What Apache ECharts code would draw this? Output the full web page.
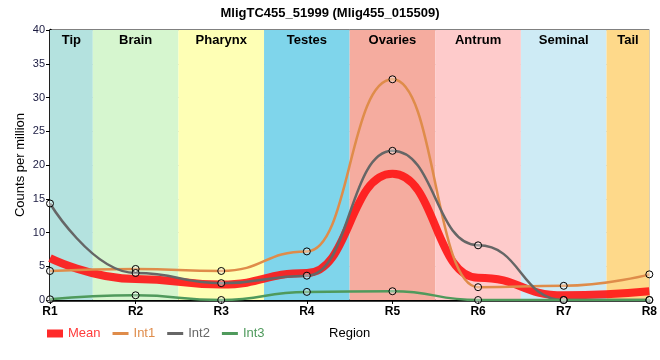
<!DOCTYPE html>
<html><head><meta charset="utf-8">
<script src="https://cdn.jsdelivr.net/npm/echarts@6/dist/echarts.min.js"></script>
<style>html,body{margin:0;padding:0;background:#fff}#c{width:660px;height:360px}</style>
</head><body><div id="c"></div>
<script>
const categories = ['R1','R2','R3','R4','R5','R6','R7','R8'];
const regions = ['Tip','Brain','Pharynx','Testes','Ovaries','Antrum','Seminal','Tail'];
const regionColors = ['#b4e2df','#d6f6cf','#feffb5','#7fd5eb','#f5ac9f','#fecbcb','#ceebf5','#fed98a'];
const mean = [6.2, 3.1, 2.3, 4.0, 18.7, 3.3, 0.7, 1.3];
const int1 = [4.3, 4.6, 4.3, 7.2, 32.7, 1.9, 2.1, 3.8];
const int2 = [14.3, 4.0, 2.5, 3.6, 22.1, 8.1, 0.0, 0.0];
const int3 = [0.1, 0.7, 0.0, 1.2, 1.3, 0.0, 0.0, 0.0];
const yTicks = [0,5,10,15,20,25,30,35,40];

const FONT = '"Liberation Sans", Arial, sans-serif';
const pts = arr => arr.map((v,i)=>[i+1, v]);
const n = categories.length;
const bands = regions.map((r,i)=>[
  {xAxis: Math.max(1, i+0.5), yAxis: 0, name: r, itemStyle:{color: regionColors[i]}},
  {xAxis: Math.min(n, i+1.5), yAxis: 40}
]);
function lineSeries(name, data, color, width, sym, z){
  return {
    name, type:'line', data: pts(data), smooth:0.5, smoothMonotone:'x',
    showSymbol: sym, symbol:'circle', symbolSize:7,
    itemStyle:{color: sym ? 'rgba(255,255,255,0.35)' : color, borderColor:'#000', borderWidth: sym ? 1 : 0},
    lineStyle:{color, width}, z: z, emphasis:{disabled:true}
  };
}
const chart = echarts.init(document.getElementById('c'), null, {renderer:'canvas'});
const lineIcon = 'path://M0,0 L16,0 L16,3 L0,3 Z';
const rectIcon = 'path://M0,0 L16,0 L16,8 L0,8 Z';
chart.setOption({
  animation:false,
  textStyle:{fontFamily: FONT},
  title:{text:'MligTC455_51999 (Mlig455_015509)', left:'center', top:2,
    textStyle:{fontSize:13, fontWeight:'bold', color:'#000', fontFamily: FONT}},
  grid:{left:50, right:9, top:30, bottom:60, show:true, borderColor:'#000', borderWidth:1},
  legend:{left:42, top:322, itemWidth:16, itemHeight:8, itemGap:12, symbolKeepAspect:true,
    data:[
      {name:'Mean', icon:rectIcon, textStyle:{color:'#ff3b3b'}, itemStyle:{color:'#ff2a2a', borderWidth:0}},
      {name:'Int1', icon:lineIcon, textStyle:{color:'#df8c4a'}, itemStyle:{color:'#df8c4a', borderWidth:0}},
      {name:'Int2', icon:lineIcon, textStyle:{color:'#666'}, itemStyle:{color:'#666', borderWidth:0}},
      {name:'Int3', icon:lineIcon, textStyle:{color:'#4f9a5c'}, itemStyle:{color:'#4f9a5c', borderWidth:0}}
    ],
    textStyle:{fontSize:13, fontFamily: FONT}},
  xAxis:{type:'value', min:1, max:n, interval:1, name:'Region', nameLocation:'middle', nameGap:27,
    nameMoveOverlap:false,
    nameTextStyle:{color:'#000', fontSize:13, fontFamily: FONT},
    axisLine:{lineStyle:{color:'#000', width:2.5}},
    axisTick:{show:true, length:4, lineStyle:{color:'#000'}},
    axisLabel:{formatter:v=>categories[v-1]||'', color:'#000', fontSize:12, fontWeight:'bold', margin:6, fontFamily: FONT},
    splitLine:{show:true, lineStyle:{color:'#c8c8c8'}}},
  yAxis:{type:'value', min:yTicks[0], max:yTicks[yTicks.length-1], interval:5, name:'Counts per million',
    nameLocation:'middle', nameGap:23, nameMoveOverlap:false,
    nameTextStyle:{color:'#000', fontSize:13, fontFamily: FONT},
    axisLine:{show:true, lineStyle:{color:'#000', width:2.5}},
    axisTick:{show:true, length:4, lineStyle:{color:'#000'}},
    axisLabel:{color:'#1a1a40', fontSize:11, margin:5, fontFamily: FONT},
    splitLine:{show:true, lineStyle:{color:'#c8c8c8'}}},
  series:[
    {name:'bands', type:'line', data:[], silent:true, z:0,
      markArea:{silent:true, data:bands,
        label:{show:true, position:'insideTop', distance:4, color:'#000', fontSize:13, fontWeight:'bold', fontFamily: FONT}}},
    lineSeries('Mean', mean, 'rgba(255,20,20,0.9)', 8, false, 2),
    lineSeries('Int1', int1, '#df8c4a', 2.5, true, 3),
    lineSeries('Int2', int2, '#666666', 2.5, true, 3),
    lineSeries('Int3', int3, '#4f9a5c', 2.5, true, 3)
  ]
});
</script></body></html>
